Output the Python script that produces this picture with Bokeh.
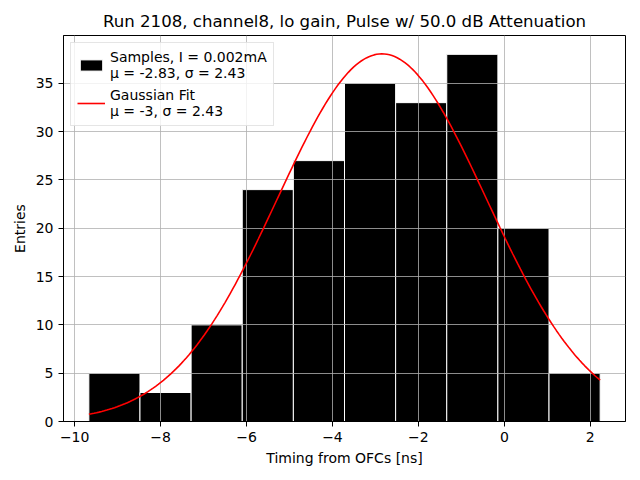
import numpy as np
from bokeh.plotting import figure
from bokeh.models import ColumnDataSource, Range1d, FixedTicker, CustomJSTickFormatter, Legend, LegendItem
from bokeh.embed import file_html
from bokeh.resources import INLINE

# Histogram data
bin_edges = [-9.67, -8.48, -7.29, -6.10, -4.91, -3.72, -2.53, -1.34, -0.15, 1.04, 2.23]
counts = [5, 3, 10, 24, 27, 35, 33, 38, 20, 5]

# Gaussian fit parameters
fit_mu = -2.85
fit_sigma = 2.43
fit_amp = 38.05

x_ticks = [-10, -8, -6, -4, -2, 0, 2]
y_ticks = [0, 5, 10, 15, 20, 25, 30, 35]

title = "Run 2108, channel8, lo gain, Pulse w/ 50.0 dB Attenuation"
label_samples = "Samples, I = 0.002mA\nμ = -2.83, σ = 2.43"
label_fit = "Gaussian Fit\nμ = -3, σ = 2.43"

left = bin_edges[:-1]
right = bin_edges[1:]
src = ColumnDataSource(dict(left=left, right=right, top=counts, bottom=[0] * len(counts)))

xf = np.linspace(bin_edges[0], bin_edges[-1], 200)
yf = fit_amp * np.exp(-(xf - fit_mu) ** 2 / (2 * fit_sigma ** 2))

p = figure(width=630, height=470, output_backend="svg", toolbar_location=None,
           x_range=Range1d(-10.26, 2.82), y_range=Range1d(0, 39.95),
           min_border_left=63, min_border_right=5, min_border_top=35, min_border_bottom=49)

p.title.text = title
p.title.align = "center"
p.title.text_font = "DejaVu Sans"
p.title.text_font_size = "16.6px"
p.title.text_font_style = "normal"
p.title.text_color = "black"

bars = p.quad(left="left", right="right", top="top", bottom="bottom", source=src,
              fill_color="black", line_color="white", line_width=1, level="image")
fit = p.line(xf, yf, line_color="red", line_width=1.6)

fmt = CustomJSTickFormatter(code="return String(tick).replace('-', '\u2212');")
p.xaxis.ticker = FixedTicker(ticks=x_ticks)
p.yaxis.ticker = FixedTicker(ticks=y_ticks)
p.xaxis.formatter = fmt
for ax in [p.xaxis, p.yaxis]:
    ax.major_label_text_font = "DejaVu Sans"
    ax.major_label_text_font_size = "14px"
    ax.major_label_text_color = "black"
    ax.axis_label_text_font = "DejaVu Sans"
    ax.axis_label_text_font_size = "14px"
    ax.axis_label_text_font_style = "normal"
    ax.axis_label_text_color = "black"
    ax.minor_tick_line_color = None
    ax.major_tick_out = 5
    ax.major_tick_in = 0
    ax.axis_line_color = "black"
    ax.major_tick_line_color = "black"
p.xaxis.axis_label = "Timing from OFCs [ns]"
p.yaxis.axis_label = "Entries"

p.xgrid.grid_line_color = "#b0b0b0"
p.ygrid.grid_line_color = "#b0b0b0"
p.xgrid.grid_line_width = 0.8
p.ygrid.grid_line_width = 0.8

p.outline_line_color = "black"
p.outline_line_alpha = 1

legend = Legend(items=[LegendItem(label=label_samples, renderers=[bars]),
                       LegendItem(label=label_fit, renderers=[fit])],
                location="top_left")
legend.label_text_font = "DejaVu Sans"
legend.label_text_font_size = "14px"
legend.label_text_color = "black"
legend.glyph_width = 28
legend.glyph_height = 14
legend.border_line_color = "#cccccc"
legend.background_fill_alpha = 0.8
legend.margin = 7
legend.padding = 6
legend.spacing = 6
p.add_layout(legend)

open("out.html", "w").write(file_html(p, INLINE))
